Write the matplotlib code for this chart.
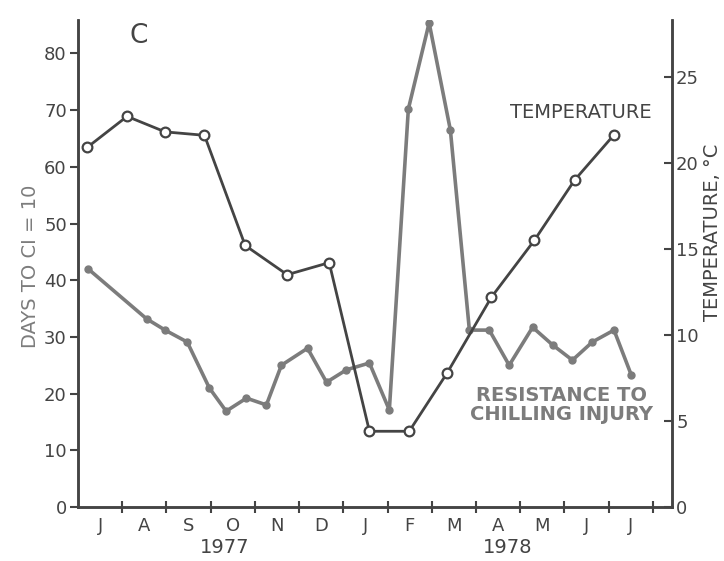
import matplotlib
matplotlib.use("Agg")
import matplotlib.pyplot as plt
import numpy as np

# months counted from 1 July 1977
temp_month = [0.21, 1.11, 1.97, 2.86, 3.78, 4.73, 5.68, 6.59, 7.49, 8.35, 9.35, 10.32, 11.23, 12.11]
temp_c = [20.9, 22.7, 21.8, 21.6, 15.2, 13.5, 14.2, 4.4, 4.4, 7.8, 12.2, 15.5, 19.0, 21.6]

res_month = [0.23, 1.55, 1.97, 2.47, 2.97, 3.35, 3.81, 4.26, 4.6, 5.19, 5.62, 6.07, 6.59, 7.04,
             7.47, 7.94, 8.42, 8.85, 9.3, 9.75, 10.28, 10.73, 11.18, 11.63, 12.12, 12.51]
res_days = [42.0, 33.2, 31.2, 29.1, 21.0, 16.9, 19.2, 18.0, 25.0, 28.0, 22.0, 24.2, 25.4, 17.1,
            70.2, 85.4, 66.5, 31.2, 31.2, 25.0, 31.7, 28.6, 25.9, 29.1, 31.2, 23.3]

month_labels = ["J", "A", "S", "O", "N", "D", "J", "F", "M", "A", "M", "J", "J"]
left_ticks = [0, 10, 20, 30, 40, 50, 60, 70, 80]
right_ticks = [0, 5, 10, 15, 20, 25]

ink = "#444444"
grey = "#7c7c7c"

fig = plt.figure(figsize=(7.24, 5.61), dpi=100)
ax = fig.add_axes([0.1077, 0.0963, 0.8204, 0.868])
ax2 = ax.twinx()

ax.set_xlim(0, 13.43)
ax.set_ylim(0, 85.9)
ax2.set_ylim(0, 28.3)

# resistance to chilling injury (days, left axis)
ax.plot(res_month, res_days, color=grey, lw=2.6, marker="o", ms=5, mfc=grey, mec=grey, zorder=3)
# temperature (right axis)
ax2.plot(temp_month, temp_c, color=ink, lw=2.0, marker="o", ms=7, mfc="white", mec=ink, mew=1.6, zorder=4)

for a in (ax, ax2):
    a.spines["top"].set_visible(False)
    for s in a.spines.values():
        s.set_color(ink)
        s.set_linewidth(1.8)

ax.set_yticks(left_ticks)
ax.tick_params(axis="y", direction="out", length=6, width=1.5, color=ink, labelsize=13, labelcolor=ink, pad=2)
ax2.set_yticks(right_ticks)
ax2.tick_params(axis="y", direction="in", length=6, width=1.5, color=ink, labelsize=13, labelcolor=ink, pad=3)

ax.set_xticks(np.arange(1, 14))
ax.set_xticklabels([])
ax.set_xticks(np.arange(0.5, 13), minor=True)
ax.set_xticklabels(month_labels, minor=True)
ax.tick_params(axis="x", which="major", direction="inout", length=9, width=1.5, color=ink)
ax.tick_params(axis="x", which="minor", length=0, labelsize=13, labelcolor=ink, pad=7)

ax.text(3.31, -0.084, "1977", transform=ax.get_xaxis_transform(), ha="center", va="center",
        fontsize=14, color=ink)
ax.text(9.71, -0.084, "1978", transform=ax.get_xaxis_transform(), ha="center", va="center",
        fontsize=14, color=ink)

ax.text(-0.08, 0.495, "DAYS TO CI = 10", transform=ax.transAxes, rotation=90, ha="center", va="center",
        fontsize=14, color=grey)
ax2.text(1.068, 0.565, "TEMPERATURE, °C", transform=ax.transAxes, rotation=90, ha="center", va="center",
         fontsize=14, color=ink)

ax.text(1.38, 83.0, "C", ha="center", va="center", fontsize=19, color=ink)
ax.text(11.36, 69.5, "TEMPERATURE", ha="center", va="center", fontsize=14, color=ink)
ax.text(10.94, 18.0, "RESISTANCE TO\nCHILLING INJURY", ha="center", va="center", fontsize=14,
        fontweight="bold", color=grey, linespacing=0.95)

fig.savefig("out.png", dpi=100)
